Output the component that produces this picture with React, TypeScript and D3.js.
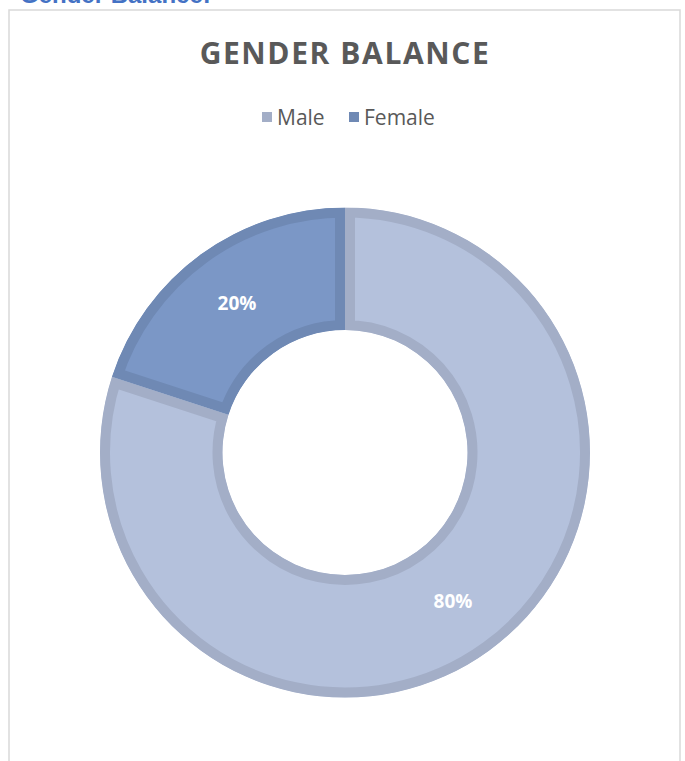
import { useEffect, useRef } from "react";
import * as d3 from "d3";

const categories = ["Male", "Female"];
const values = [80, 20];
const labels = ["80%", "20%"];

const fills = ["#b4c1dc", "#7b97c6"];
const edges = ["#a3aec7", "#6f89b4"];

function GenderDonut() {
  const ref = useRef<SVGSVGElement | null>(null);

  useEffect(() => {
    if (!ref.current) return;
    const svg = d3.select(ref.current);
    svg.selectAll("*").remove();

    const cx = 345,
      cy = 452.5,
      outer = 245,
      inner = 122.5;

    // heading above the chart box (cut off at the top of the page)
    svg
      .append("text")
      .attr("x", 20)
      .attr("y", 3)
      .attr("font-family", "Liberation Sans, Arial, sans-serif")
      .attr("font-weight", "bold")
      .attr("font-size", 24)
      .attr("fill", "#4472c4")
      .text("Gender Balance:");

    // chart frame
    svg
      .append("rect")
      .attr("x", 9)
      .attr("y", 10)
      .attr("width", 671)
      .attr("height", 800)
      .attr("fill", "#fff")
      .attr("stroke", "#d9d9d9")
      .attr("stroke-width", 1.5);

    svg
      .append("text")
      .attr("x", 345)
      .attr("y", 64)
      .attr("text-anchor", "middle")
      .attr("font-family", "Open Sans, sans-serif")
      .attr("font-weight", "bold")
      .attr("font-size", 30)
      .attr("letter-spacing", 1.6)
      .attr("fill", "#595959")
      .text("GENDER BALANCE");

    // legend
    const legendX = [262, 349];
    const legend = svg
      .append("g")
      .selectAll("g")
      .data(categories)
      .enter()
      .append("g")
      .attr("transform", (d, i) => "translate(" + legendX[i] + ",112)");
    legend
      .append("rect")
      .attr("width", 10)
      .attr("height", 10)
      .attr("fill", (d, i) => edges[i]);
    legend
      .append("text")
      .attr("x", 15)
      .attr("y", 12.5)
      .attr("font-family", "Open Sans, sans-serif")
      .attr("font-size", 21)
      .attr("fill", "#595959")
      .text((d) => d);

    const pie = d3
      .pie<number>()
      .sort(null)
      .startAngle(0)
      .endAngle(2 * Math.PI);
    const arcs = pie(values);
    const arc = d3.arc<d3.PieArcDatum<number>>().innerRadius(inner).outerRadius(outer);

    const g = svg.append("g").attr("transform", "translate(" + cx + "," + cy + ")");
    const defs = svg.append("defs");
    arcs.forEach((a, i) => {
      defs
        .append("clipPath")
        .attr("id", "slice-clip-" + i)
        .append("path")
        .attr("d", arc(a) as string);
    });

    // inner border: stroke twice as wide, clipped to the slice
    g.selectAll("path.slice")
      .data(arcs)
      .enter()
      .append("path")
      .attr("class", "slice")
      .attr("d", (d) => arc(d) as string)
      .attr("fill", (d, i) => fills[i])
      .attr("stroke", (d, i) => edges[i])
      .attr("stroke-width", 20)
      .attr("stroke-linejoin", "miter")
      .attr("clip-path", (d, i) => "url(#slice-clip-" + i + ")");

    g.selectAll("text.pct")
      .data(arcs)
      .enter()
      .append("text")
      .attr("class", "pct")
      .attr("transform", (d) => "translate(" + arc.centroid(d) + ")")
      .attr("text-anchor", "middle")
      .attr("dy", "0.35em")
      .attr("font-family", "Open Sans, sans-serif")
      .attr("font-weight", "bold")
      .attr("font-size", 19)
      .attr("fill", "#fff")
      .text((d, i) => labels[i]);
  }, []);

  return (
    <svg
      ref={ref}
      width={685}
      height={761}
      style={{ position: "absolute", left: 0, top: 0, display: "block" }}
    />
  );
}

export default function App() {
  return <GenderDonut />;
}
